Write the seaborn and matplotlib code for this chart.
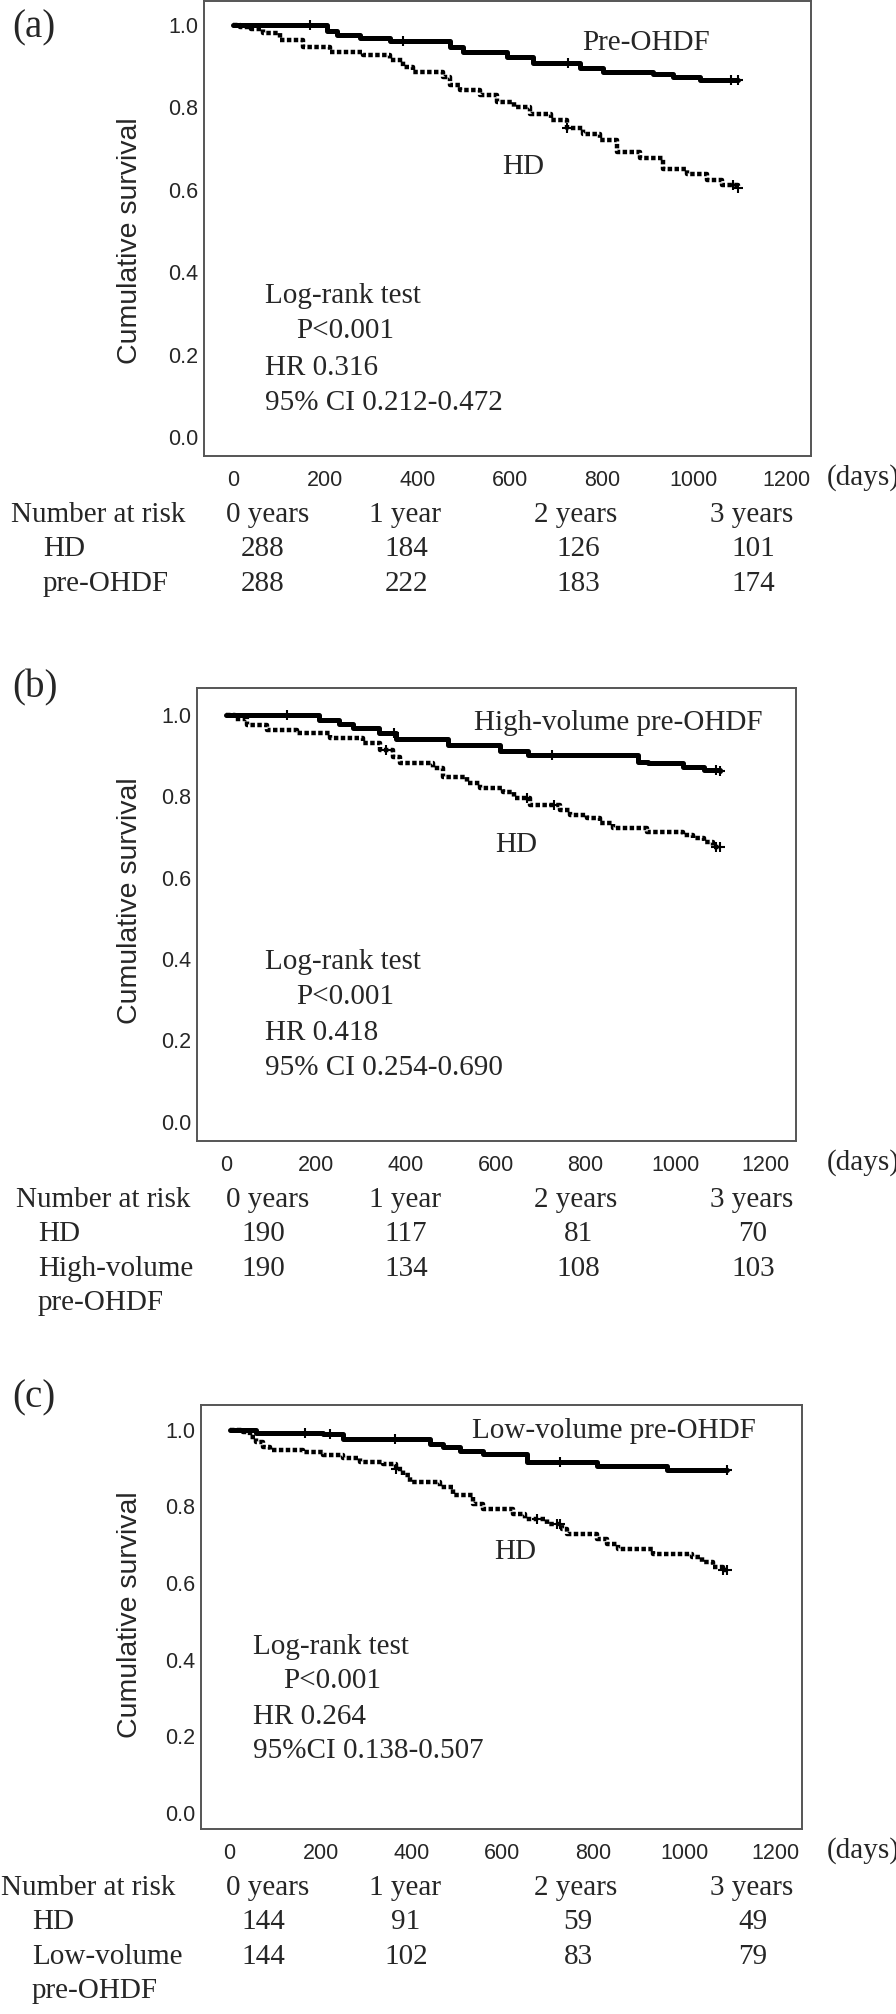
import numpy as np
import pandas as pd
import matplotlib
matplotlib.use("Agg")
import matplotlib.pyplot as plt
import seaborn as sns

# --- data (days, cumulative survival) ---
a_pre_t = [0, 203, 225, 275, 340, 470, 500, 594, 651, 753, 803, 911, 955, 1013, 1095]
a_pre_s = [1.0, 0.984, 0.976, 0.968, 0.960, 0.947, 0.935, 0.921, 0.907, 0.895, 0.886, 0.881, 0.873, 0.866, 0.866]
a_hd_t = [0, 15, 40, 65, 102, 152, 210, 282, 340, 369, 391, 456, 470, 492, 536, 572, 610, 644, 690,
          724, 760, 796, 833, 883, 933, 984, 1028, 1060, 1095]
a_hd_s = [1.0, 0.996, 0.990, 0.980, 0.964, 0.947, 0.935, 0.927, 0.915, 0.899, 0.886, 0.874, 0.854, 0.842,
          0.830, 0.813, 0.800, 0.785, 0.770, 0.749, 0.735, 0.720, 0.692, 0.676, 0.651, 0.639, 0.623, 0.612, 0.604]
a_pre_cens = [167, 369, 727, 1080, 1095]
a_hd_cens = [724, 1085, 1095]

b_pre_t = [0, 207, 251, 283, 341, 379, 494, 610, 673, 918, 940, 1018, 1063, 1100]
b_pre_s = [1.0, 0.988, 0.978, 0.968, 0.955, 0.941, 0.925, 0.910, 0.902, 0.885, 0.882, 0.873, 0.865, 0.863]
b_hd_t = [0, 20, 46, 91, 157, 232, 305, 343, 372, 387, 461, 483, 537, 566, 617, 640, 677, 744, 766,
          803, 833, 862, 937, 1018, 1040, 1063, 1085, 1100]
b_hd_s = [1.0, 0.990, 0.975, 0.963, 0.955, 0.943, 0.930, 0.914, 0.897, 0.881, 0.869, 0.848, 0.832, 0.820,
          0.811, 0.795, 0.779, 0.766, 0.754, 0.746, 0.734, 0.721, 0.713, 0.705, 0.697, 0.688, 0.676, 0.676]
b_pre_cens = [136, 373, 725, 1090, 1100]
b_hd_cens = [357, 670, 729, 1090, 1100]

c_pre_t = [0, 59, 206, 250, 440, 470, 506, 558, 653, 807, 961, 1093]
c_pre_s = [1.0, 0.993, 0.988, 0.975, 0.963, 0.955, 0.946, 0.937, 0.916, 0.905, 0.894, 0.894]
c_hd_t = [0, 29, 44, 59, 73, 88, 161, 205, 250, 286, 337, 367, 382, 396, 462, 491, 535, 557, 623, 650,
          697, 730, 741, 807, 829, 854, 931, 1016, 1040, 1063, 1085, 1093]
c_hd_s = [1.0, 0.994, 0.981, 0.968, 0.955, 0.948, 0.942, 0.935, 0.926, 0.917, 0.911, 0.898, 0.881, 0.863,
          0.850, 0.829, 0.807, 0.794, 0.781, 0.768, 0.755, 0.742, 0.728, 0.715, 0.702, 0.689, 0.676, 0.667,
          0.654, 0.641, 0.635, 0.635]
c_pre_cens = [165, 220, 363, 726, 1093]
c_hd_cens = [367, 676, 719, 726, 1085, 1093]

risk_years = ["0 years", "1 year", "2 years", "3 years"]
a_hd_risk = [288, 184, 126, 101]
a_pre_risk = [288, 222, 183, 174]
b_hd_risk = [190, 117, 81, 70]
b_pre_risk = [190, 134, 108, 103]
c_hd_risk = [144, 91, 59, 49]
c_pre_risk = [144, 102, 83, 79]

x_ticks = [0, 200, 400, 600, 800, 1000, 1200]
y_ticks = [0.0, 0.2, 0.4, 0.6, 0.8, 1.0]

# --- style ---
sns.set_style("white")
SERIF = ["Liberation Serif", "DejaVu Serif"]
SANS = ["Liberation Sans", "DejaVu Sans"]
plt.rcParams["font.family"] = SANS

W, H = 896, 2014
fig = plt.figure(figsize=(W / 100, H / 100), dpi=100)


def fx(x):
    return x / W


def fy(y):
    return 1 - y / H


def km(ax, t, s, cens, style):
    # step curve + censoring ticks
    df = pd.DataFrame({"days": t, "surv": s})
    sns.lineplot(data=df, x="days", y="surv", ax=ax, estimator=None, sort=True,
                 drawstyle="steps-post", color="black", **style)
    cs = [s[np.searchsorted(t, c, side="right") - 1] for c in cens]
    sns.scatterplot(x=cens, y=cs, ax=ax, marker="+", s=45, color="black", linewidth=1.5, zorder=5)


panels = [
    dict(tag="(a)", box=(204, 1, 811, 456), xlim=(-63, 1254), ylim=(-0.046, 1.058), tagy=28, ylab_y=241,
         pre=(a_pre_t, a_pre_s, a_pre_cens), hd=(a_hd_t, a_hd_s, a_hd_cens),
         pre_lab=("Pre-OHDF", 757, 0.955), hd_lab=("HD", 585, 0.655),
         stats=["Log-rank test", "P<0.001", "HR 0.316", "95% CI 0.212-0.472"], stat_x=(69, 136),
         stat_y=[0.343, 0.258, 0.168, 0.083],
         risk=(a_hd_risk, a_pre_risk), rows=["HD", "pre-OHDF"], nar_x=11, row_x=43),
    dict(tag="(b)", box=(197, 688, 796, 1141), xlim=(-65, 1269), ylim=(-0.047, 1.066), tagy=688, ylab_y=901,
         pre=(b_pre_t, b_pre_s, b_pre_cens), hd=(b_hd_t, b_hd_s, b_hd_cens),
         pre_lab=("High-volume pre-OHDF", 552, 0.980), hd_lab=("HD", 599, 0.680),
         stats=["Log-rank test", "P<0.001", "HR 0.418", "95% CI 0.254-0.690"], stat_x=(87, 156),
         stat_y=[0.393, 0.307, 0.218, 0.132],
         risk=(b_hd_risk, b_pre_risk), rows=["HD", "High-volume\npre-OHDF"], nar_x=16, row_x=38),
    dict(tag="(c)", box=(201, 1405, 802, 1829), xlim=(-63, 1259), ylim=(-0.042, 1.065), tagy=1398, ylab_y=1615,
         pre=(c_pre_t, c_pre_s, c_pre_cens), hd=(c_hd_t, c_hd_s, c_hd_cens),
         pre_lab=("Low-volume pre-OHDF", 533, 0.996), hd_lab=("HD", 583, 0.682),
         stats=["Log-rank test", "P<0.001", "HR 0.264", "95%CI 0.138-0.507"], stat_x=(51, 117),
         stat_y=[0.432, 0.345, 0.251, 0.162],
         risk=(c_hd_risk, c_pre_risk), rows=["HD", "Low-volume\npre-OHDF"], nar_x=1, row_x=32),
]

head_x = [268, 405, 576, 752]
num_x = [263, 406, 578, 753]
TXT = 21

for p in panels:
    l, t, r, b = p["box"]
    ax = fig.add_axes([fx(l), fy(b), (r - l) / W, (b - t) / H])
    km(ax, *p["pre"], dict(linewidth=3.6, linestyle="-"))
    km(ax, *p["hd"], dict(linewidth=3.2, linestyle=(0, (1.0, 0.55))))
    ax.set_xlim(*p["xlim"])
    ax.set_ylim(*p["ylim"])
    ax.set_xticks(x_ticks)
    ax.set_yticks(y_ticks)
    ax.set_yticklabels([f"{v:.1f}" for v in y_ticks])
    ax.tick_params(length=0, labelsize=15.5)
    ax.tick_params(axis="x", pad=10)
    ax.tick_params(axis="y", pad=4)
    ax.set_xlabel("")
    ax.set_ylabel("")
    for sp in ax.spines.values():
        sp.set_visible(True)
        sp.set_color("#555555")
        sp.set_linewidth(1.4)

    ax.text(p["pre_lab"][1], p["pre_lab"][2], p["pre_lab"][0], family=SERIF, fontsize=TXT, va="center")
    ax.text(p["hd_lab"][1], p["hd_lab"][2], p["hd_lab"][0], family=SERIF, fontsize=TXT, va="center")
    for i, (line, yy) in enumerate(zip(p["stats"], p["stat_y"])):
        xx = p["stat_x"][1] if i == 1 else p["stat_x"][0]
        ax.text(xx, yy, line, family=SERIF, fontsize=TXT, va="center")

    fig.text(fx(12), fy(p["tagy"]), p["tag"], family=SERIF, fontsize=28, va="center")
    fig.text(fx(130), fy(p["ylab_y"]), "Cumulative survival", rotation=90, fontsize=20.5,
             va="center", ha="center")
    fig.text(fx(827), fy(b + 22), "(days)", family=SERIF, fontsize=TXT, va="center")

    # number-at-risk table
    fig.text(fx(p["nar_x"]), fy(b + 59), "Number at risk", family=SERIF, fontsize=TXT, va="center")
    for hx, lab in zip(head_x, risk_years):
        fig.text(fx(hx), fy(b + 59), lab, family=SERIF, fontsize=TXT, va="center", ha="center")
    for k, (vals, rl) in enumerate(zip(p["risk"], p["rows"])):
        yrow = b + 93 + 35 * k
        first, *rest = rl.split("\n")
        fig.text(fx(p["row_x"]), fy(yrow), first, family=SERIF, fontsize=TXT, va="center")
        for j, extra in enumerate(rest):
            fig.text(fx(p["row_x"]), fy(yrow + 34 * (j + 1)), extra, family=SERIF, fontsize=TXT, va="center")
        for nx, v in zip(num_x, vals):
            fig.text(fx(nx), fy(yrow), str(v), family=SERIF, fontsize=TXT, va="center", ha="center")

fig.savefig("out.png", dpi=100)
